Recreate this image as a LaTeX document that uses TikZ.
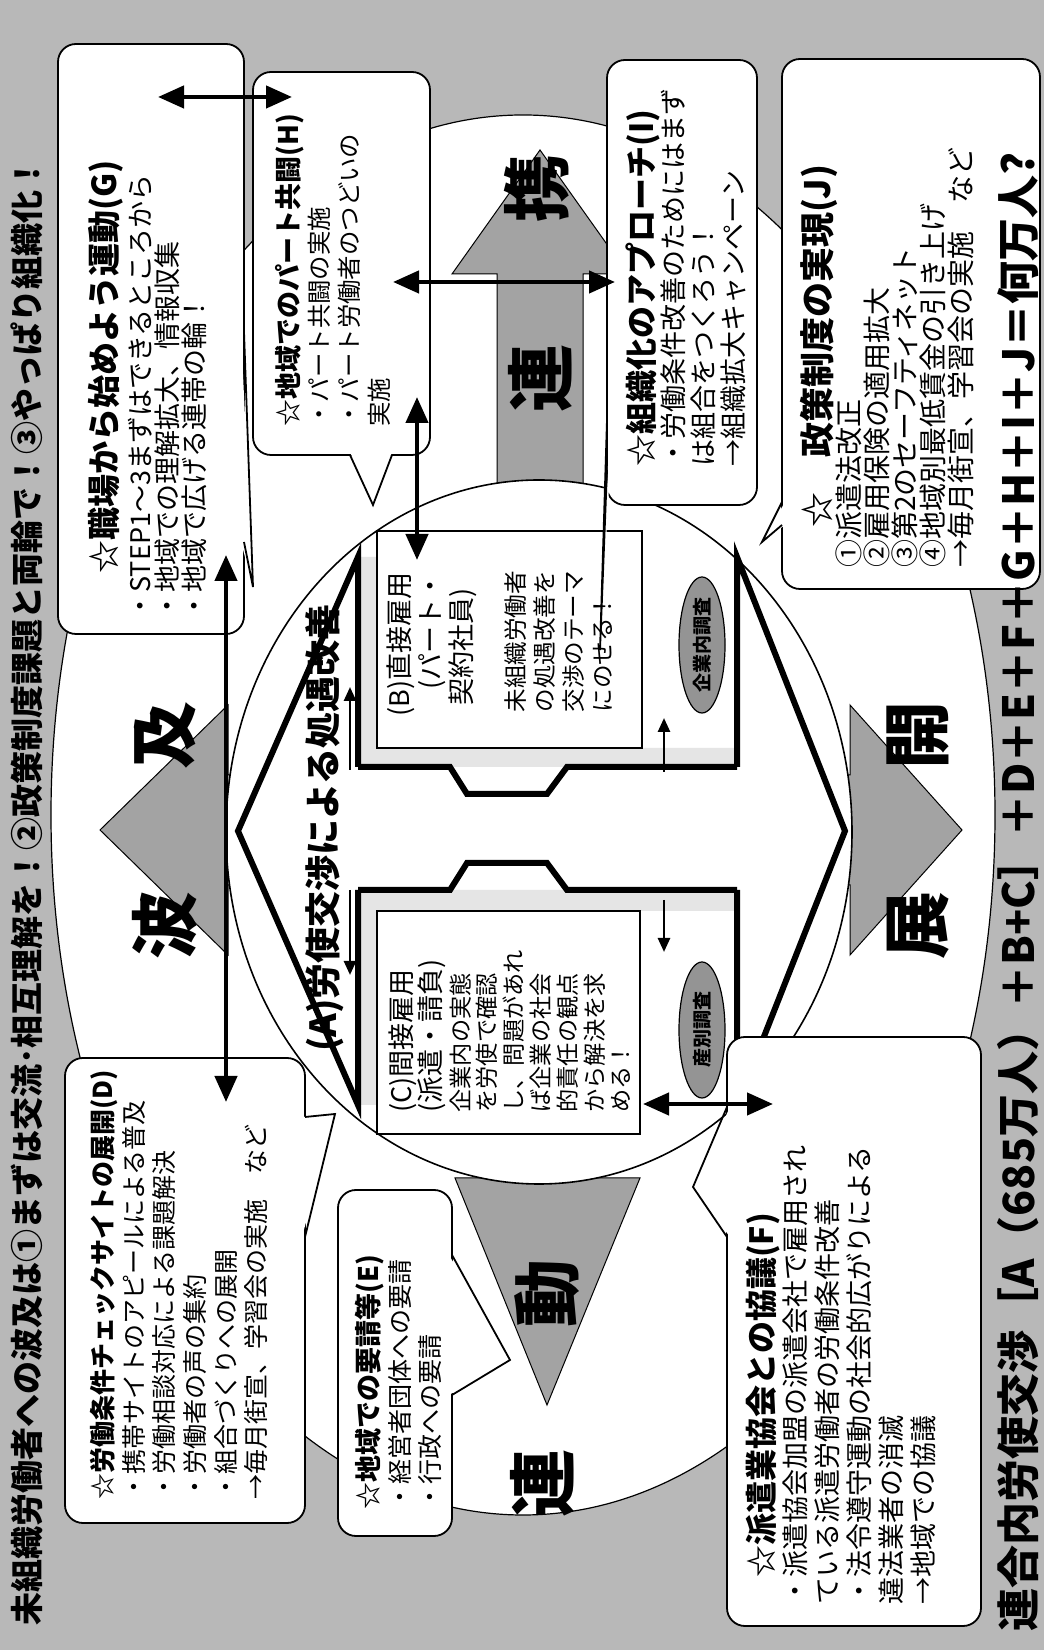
\documentclass[tikz,border=0pt]{standalone}
\usepackage{fontspec}
\setmainfont{Noto Sans CJK JP}
\usetikzlibrary{arrows.meta,shapes.geometric}
\definecolor{bggray}{gray}{0.72}
\definecolor{argray}{gray}{0.64}
\definecolor{stip}{gray}{0.9}
\definecolor{ovgray}{gray}{0.58}
\newcommand\fs[2]{\fontsize{#1}{#2}\selectfont}
\newcommand\rboxat[5]{\node[rbox,minimum width={(#4-#2)*0.5pt},minimum height={(#5-#3)*0.5pt}] (#1) at ({(#2+#4)/2},{(#3+#5)/2}) {};}
\newcommand\sboxat[5]{\node[sbox,minimum width={(#4-#2)*0.5pt},minimum height={(#5-#3)*0.5pt}] (#1) at ({(#2+#4)/2},{(#3+#5)/2}) {};}
\begin{document}
\begin{tikzpicture}[x=0.5pt,y=-0.5pt,rotate=90,transform shape,
  rbox/.style={draw,fill=white,rounded corners=9pt,line width=0.9pt,inner sep=0pt},
  sbox/.style={draw,fill=white,line width=0.8pt,inner sep=0pt},
  txt/.style={anchor=north west,align=left,inner sep=0pt},
  bigc/.style={font=\bfseries\fs{34}{34},inner sep=0pt},
  dbl/.style={line width=2.2pt,{Triangle[length=13pt,width=11pt]}-{Triangle[length=13pt,width=11pt]}},
  sarr/.style={line width=1.3pt,-{Triangle[length=7pt,width=6pt]}},
  garrow/.style={fill=argray,draw=black,line width=0.5pt},
  thk/.style={line width=3pt},
  tl/.style={line width=0.9pt},
  oval/.style={ellipse,fill=ovgray,draw,line width=0.6pt,inner sep=0pt,minimum width=68pt,minimum height=23pt,font=\bfseries\fs{9.5}{10}}
]
\useasboundingbox (0,0) rectangle (1650,1044);
\fill[bggray] (0,0) rectangle (1650,1044);
% big white ellipse
\draw[fill=white,line width=0.6pt] (835,523) ellipse [x radius=700, y radius=472];
% gray arrows
\draw[garrow] (765,300) -- (765,228) -- (695,228) -- (820,100) -- (945,228) -- (875,228) -- (875,300) -- cycle;
\draw[garrow] (765,780) -- (765,850) -- (695,850) -- (820,962) -- (945,850) -- (875,850) -- (875,780) -- cycle;
\draw[garrow] (520,497) -- (472,497) -- (472,455) -- (245,547) -- (472,640) -- (472,597) -- (520,597) -- cycle;
\draw[garrow] (1120,497) -- (1376,497) -- (1376,452) -- (1500,540) -- (1376,628) -- (1376,583) -- (1120,583) -- cycle;
% central ellipse
\draw[fill=white,line width=0.8pt] (818,539) ellipse [x radius=352, y radius=313];
% stipple bands
\fill[stip] (545,358) -- (760,358) -- (760,737) -- (739,737) -- (739,377) -- (545,377) -- cycle;
\fill[stip] (883,358) -- (1093,358) -- (1093,377) -- (902,377) -- (902,737) -- (883,737) -- cycle;
% thick double arrow outline
\draw[thk] (760,358) -- (545,358) -- (819,238) -- (1093,358) -- (883,358);
\draw[thk] (760,737) -- (545,737) -- (819,845) -- (1093,737) -- (883,737);
\draw[thk] (760,358) -- (760,450) -- (787,467) -- (787,547) -- (760,567) -- (760,737);
\draw[thk] (883,358) -- (883,450) -- (856,467) -- (856,547) -- (883,567) -- (883,737);
% boxes B, C
\sboxat{C}{516}{377}{739}{640}
\sboxat{B}{902}{377}{1119}{642}
\node[oval] (ovC) at (620,702) {産別調査};
\node[oval] (ovB) at (1005,702) {企業内調査};
% small arrows
\coordinate (s1a) at (880,350); \coordinate (s1b) at (963,350);
\coordinate (s2a) at (760,350); \coordinate (s2b) at (675,350);
\coordinate (s3a) at (878,664); \coordinate (s3b) at (932,664);
\coordinate (s4a) at (750,664); \coordinate (s4b) at (698,664);
\draw[sarr] (s1a) -- (s1b);
\draw[sarr] (s2a) -- (s2b);
\draw[sarr] (s3a) -- (s3b);
\draw[sarr] (s4a) -- (s4b);
% outer boxes with tails
\rboxat{G}{1016}{58}{1606}{244}
\fill[white] (1318,241) -- (1063,253) -- (1108,241) -- cycle;
\draw[tl] (1318,244) -- (1063,253) -- (1108,244);
\rboxat{H}{1195}{253}{1578}{430}
\fill[white] (1198,350) -- (1145,373) -- (1198,392) -- cycle;
\draw[tl] (1195,350) -- (1145,373) -- (1195,392);
\rboxat{I}{1145}{607}{1590}{757}
\fill[white] (1230,610) -- (1000,600) -- (1180,610) -- cycle;
\draw[tl] (1230,607) -- (1000,600) -- (1180,607);
\rboxat{J}{1061}{782}{1591}{1040}
\fill[white] (1148,785) -- (1108,762) -- (1125,785) -- cycle;
\draw[tl] (1148,782) -- (1108,762) -- (1125,782);
\rboxat{D}{127}{65}{592}{305}
\fill[white] (413,302) -- (536,335) -- (533,302) -- cycle;
\draw[tl] (413,305) -- (536,335) -- (533,305);
\rboxat{E}{114}{338}{460}{452}
\fill[white] (395,449) -- (290,510) -- (255,449) -- cycle;
\draw[tl] (395,452) -- (290,510) -- (255,452);
\rboxat{F}{24}{727}{613}{981}
\fill[white] (413,730) -- (463,693) -- (543,730) -- cycle;
\draw[tl] (413,727) -- (463,693) -- (543,727);
% connectors
\coordinate (gh1) at (1553,158); \coordinate (gh2) at (1553,292);
\coordinate (hi1) at (1368,393); \coordinate (hi2) at (1368,615);
\coordinate (hb1) at (1090,417); \coordinate (hb2) at (1253,417);
\coordinate (gd1) at (548,226); \coordinate (gd2) at (1095,226);
\coordinate (cf1) at (546,643); \coordinate (cf2) at (546,773);
\draw[dbl] (gh1) -- (gh2);
\draw[dbl] (hi1) -- (hi2);
\draw[dbl] (hb1) -- (hb2);
\draw[dbl] (gd1) -- (gd2);
\draw[dbl] (cf1) -- (cf2);
% big characters
\node[bigc] (c1) at (724,165) {波};
\node[bigc] (c2) at (914,165) {及};
\node[bigc] (c3) at (724,918) {展};
\node[bigc] (c4) at (914,918) {開};
\node[bigc] (c5) at (166,542) {連};
\node[bigc] (c6) at (356,547) {動};
\node[bigc] (c7) at (1271,540) {連};
\node[bigc] (c8) at (1461,537) {携};
% central text
\node[font=\bfseries\fs{18}{18},inner sep=0pt] (At) at (822,325) {(A)労使交渉による処遇改善};
\node[txt,font=\fs{13.5}{15.5}] (Bt) at (933,386) {(B)直接雇用\\\hspace*{1em}(パート・\\\hspace*{0.4em}契約社員)};
\node[txt,font=\fs{11.8}{14.5}] (Bt2) at (937,504) {未組織労働者\\の処遇改善を\\交渉のテーマ\\にのせる！};
\node[txt,font=\fs{13.5}{14.8}] (Ct) at (537,388) {(C)間接雇用\\(派遣・請負)};
\node[txt,font=\fs{11.6}{13.4}] (Ct2) at (537,449) {企業内の実態\\を労使で確認\\し、問題があれ\\ば企業の社会\\的責任の観点\\から解決を求\\める！};
% box texts
\node[txt,font=\bfseries\fs{16.5}{17}] (Gt) at (1076,88) {☆職場から始めよう運動(G)};
\node[txt,font=\fs{13.5}{13.4}] (Gb) at (1030,128) {・STEP1～3まずはできるところから\\・地域での理解拡大、情報収集\\・地域で広げる連帯の輪！};
\node[txt,font=\fs{12.2}{15}] (Ht) at (1223,275) {{\bfseries\fs{13.5}{15}☆地域でのパート共闘(H)}\\・パート共闘の実施\\・パート労働者のつどいの\\実施};
\node[txt,font=\fs{13.5}{15}] (It) at (1183,625) {{\bfseries\fs{16}{16}☆組織化のアプローチ(I)}\\・労働条件改善のためにはまず\\は組合をつくろう！\\→組織拡大キャンペーン};
\node[txt,font=\bfseries\fs{17.5}{17.5}] (Jt) at (1122,800) {☆　政策制度の実現(J)};
\node[txt,font=\fs{14}{14}] (Jb) at (1082,835) {①派遣法改正\\②雇用保険の適用拡大\\③第2のセーフティネット\\④地域別最低賃金の引き上げ\\→毎月街宣、学習会の実施　など};
\node[txt,font=\fs{12.5}{15.3}] (Dt) at (150,90) {{\bfseries\fs{13}{15.3}☆労働条件チェックサイトの展開(D)}\\・携帯サイトのアピールによる普及\\・労働相談対応による課題解決\\・労働者の声の集約\\・組合づくりへの展開\\→毎月街宣、学習会の実施　など};
\node[txt,font=\fs{12.5}{15.3}] (Et) at (140,355) {{\bfseries\fs{13.5}{15.3}☆地域での要請等(E)}\\・経営者団体への要請\\・行政への要請};
\node[txt,font=\fs{13.5}{16}] (Ft) at (45,746) {\hspace*{1em}{\bfseries\fs{16}{16}☆派遣業協会との協議(F)}\\・派遣協会加盟の派遣会社で雇用され\\ている派遣労働者の労働条件改善\\・法令遵守運動の社会的広がりによる\\違法業者の消滅\\→地域での協議};
% title and formula
\node[anchor=west,font=\bfseries\fs{16.5}{17},inner sep=0pt] (title) at (24,27) {未組織労働者への波及は①まずは交流･相互理解を！②政策制度課題と両輪で！③やっぱり組織化！};
\node[anchor=west,font=\bfseries\fs{21.5}{22},inner sep=0pt] (formula) at (18,1018) {連合内労使交渉［A（685万人）＋B+C］＋D＋E＋F＋G＋H＋I＋J＝何万人?};
\end{tikzpicture}
\end{document}
